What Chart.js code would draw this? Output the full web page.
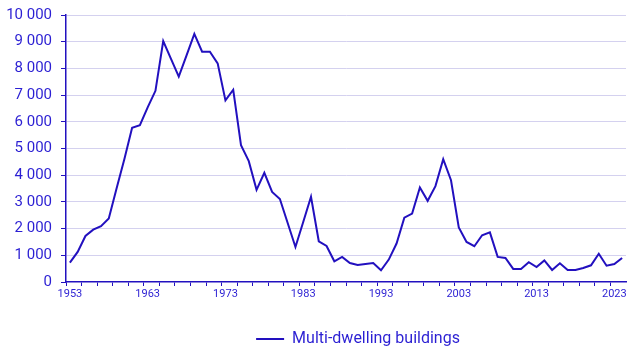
<!DOCTYPE html>
<html>
<head>
<meta charset="utf-8">
<script src="https://cdn.jsdelivr.net/npm/chart.js@4"></script>
<style>
  html, body { margin: 0; padding: 0; background: #fff; }
  #wrap { width: 643px; height: 360px; }
</style>
</head>
<body>
<div id="wrap"><canvas id="chart"></canvas></div>
<script>
// years 1953 - 2024
let years = []
for (let y = 1953; y <= 2024; y++) years.push(String(y))

let multiDwelling = [
    725, 1125, 1725, 1960, 2090, 2375, 3500, 4600, 5775, 5875,
    6540, 7160, 9025, 8360, 7690, 8490, 9290, 8625, 8625, 8190,
    6800, 7200, 5125, 4525, 3450, 4090, 3375, 3110, 2210, 1310,
    2250, 3190, 1525, 1350, 775, 940, 710, 640, 675, 710,
    440, 840, 1440, 2410, 2560, 3540, 3040, 3590, 4600, 3810,
    2040, 1500, 1340, 1750, 1860, 940, 900, 490, 490, 740,
    560, 810, 450, 700, 450, 450, 525, 625, 1060, 610,
    675, 900
]

let xLabels = ['1953', '1963', '1973', '1983', '1993', '2003', '2013', '2023']
let yMax = 10000
let yStep = 1000

const lineColor = '#2210bf'
const textColor = '#2b1fd3'

// legend in the reference sits a bit right of centre
const legendShift = {
    id: 'legendShift',
    afterLayout(chart) {
        let lg = chart.legend
        if (!lg) return
        let d = 358 - (lg.left + lg.right) / 2
        lg.left += d
        lg.right += d
    }
}

var ctx = document.getElementById('chart').getContext('2d');
new Chart(ctx, {
    type: 'line',
    data: {
        labels: years,
        datasets: [{
            label: 'Multi-dwelling buildings',
            data: multiDwelling,
            borderColor: lineColor,
            backgroundColor: lineColor,
            borderWidth: 2,
            pointRadius: 0,
            tension: 0
        }]
    },
    plugins: [legendShift],
    options: {
        responsive: true,
        maintainAspectRatio: false,
        animation: false,
        layout: { padding: { top: 15, right: 17, left: 0, bottom: 3 } },
        plugins: {
            legend: {
                position: 'bottom',
                labels: {
                    color: textColor,
                    font: { family: 'Roboto', size: 16 },
                    usePointStyle: true,
                    pointStyle: 'line',
                    pointStyleWidth: 28,
                    padding: 10
                }
            },
            tooltip: { enabled: false }
        },
        scales: {
            x: {
                offset: true,
                border: { color: lineColor, width: 1.5 },
                grid: {
                    offset: true,
                    drawOnChartArea: false,
                    tickLength: 4,
                    color: (c) => (c.index % 2 === 0 ? lineColor : 'rgba(0,0,0,0)')
                },
                ticks: {
                    autoSkip: false,
                    maxRotation: 0,
                    color: textColor,
                    font: { family: 'Roboto', size: 11 },
                    padding: 2,
                    callback: function (v, i) {
                        let l = this.getLabelForValue(v)
                        return xLabels.includes(l) ? l : ''
                    }
                },
                afterFit: (s) => { s.height = 39 }
            },
            y: {
                min: 0,
                max: yMax,
                border: { color: lineColor, width: 1.5 },
                grid: {
                    color: (c) => (c.tick.value === 0 ? 'rgba(0,0,0,0)' : '#d4d1ef'),
                    tickColor: lineColor,
                    tickLength: 5
                },
                ticks: {
                    stepSize: yStep,
                    color: textColor,
                    font: { family: 'Roboto', size: 15 },
                    padding: 9,
                    callback: (v) => String(v).replace(/\B(?=(\d{3})+(?!\d))/g, ' ')
                },
                afterFit: (s) => { s.width = 66; s.paddingTop = 0; s.paddingBottom = 0 }
            }
        }
    }
});
</script>
</body>
</html>
